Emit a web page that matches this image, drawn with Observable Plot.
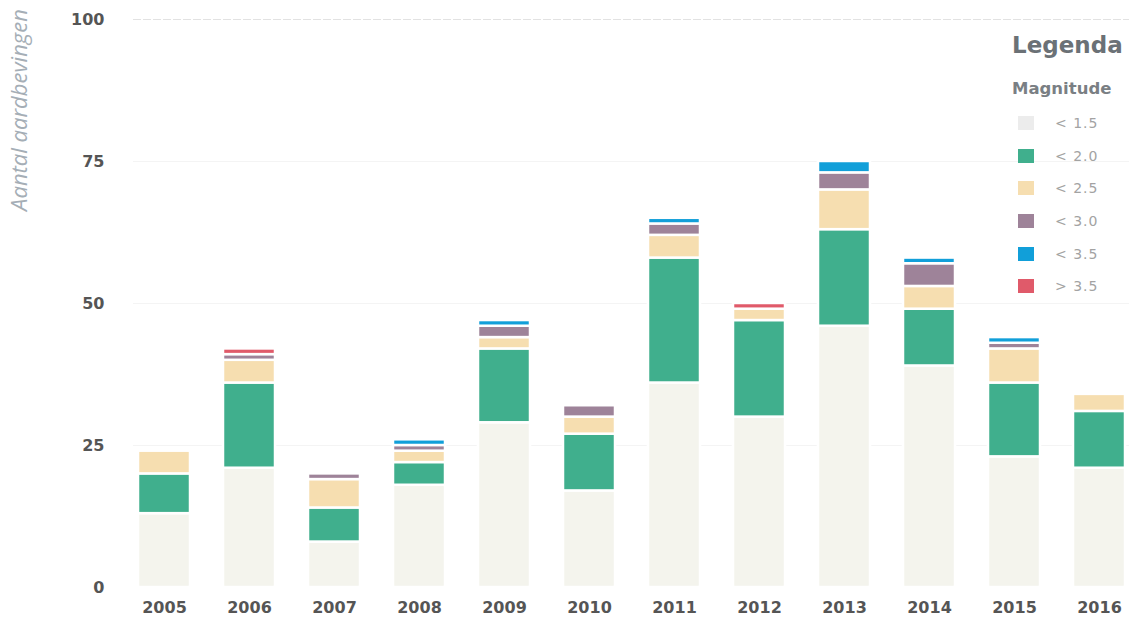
<!DOCTYPE html>
<html>
<head>
<meta charset="utf-8">
<script src="https://cdn.jsdelivr.net/npm/d3@7"></script>
<script src="https://cdn.jsdelivr.net/npm/@observablehq/plot@0.6"></script>
<style>
  body { margin: 0; background: #fff; }
  #wrap { position: relative; width: 1131px; height: 628px; overflow: hidden; }
  #ytitle {
    position: absolute; left: -102px; top: 96px; width: 240px; height: 28px;
    line-height: 28px; text-align: center; transform: rotate(-90deg);
    font-family: "Open Sans", sans-serif; font-style: italic; font-weight: 400;
    font-size: 22px; color: #a5aeb6; white-space: nowrap;
  }
  #legend { position: absolute; left: 1012px; top: 28px; font-family: "DejaVu Sans", sans-serif; }
  #legend .title { font-weight: bold; font-size: 23px; color: #6b7176; line-height: 34px; }
  #legend .sub { font-weight: bold; font-size: 16.5px; color: #7a7f84; margin-top: 17px; line-height: 20px; }
  #legend .row { display: flex; align-items: center; height: 32.6px; }
  #legend .sw { width: 16px; height: 14px; margin-left: 6px; margin-right: 21px; }
  #legend .lab { font-size: 14px; color: #a3a3a3; letter-spacing: 1px; }
</style>
</head>
<body>
<div id="wrap"></div>
<script>
const years = ["2005","2006","2007","2008","2009","2010","2011","2012","2013","2014","2015","2016"];
const categories = ["< 1.5","< 2.0","< 2.5","< 3.0","< 3.5","> 3.5"];
const colors = ["#f4f4ed","#40af8d","#f6deb0","#9e8399","#119fd9","#e05a6a"];

const m15  = [13, 21,  8, 18, 29, 17, 36, 30, 46, 39, 23, 21];
const m20  = [ 7, 15,  6,  4, 13, 10, 22, 17, 17, 10, 13, 10];
const m25  = [ 4,  4,  5,  2,  2,  3,  4,  2,  7,  4,  6,  3];
const m30  = [ 0,  1,  1,  1,  2,  2,  2,  0,  3,  4,  1,  0];
const m35  = [ 0,  0,  0,  1,  1,  0,  1,  0,  2,  1,  1,  0];
const m35p = [ 0,  1,  0,  0,  0,  0,  0,  1,  0,  0,  0,  0];
const yTicks = [0, 25, 50, 75, 100];

const series = [m15, m20, m25, m30, m35, m35p];
const data = years.flatMap((yr, i) =>
  categories.map((c, k) => ({year: yr, magnitude: c, count: series[k][i]}))
);

const chart = Plot.plot({
  width: 1131,
  height: 628,
  marginTop: 19,
  marginBottom: 41,
  marginLeft: 133,
  marginRight: 2,
  style: {fontFamily: "DejaVu Sans", fontSize: "16px", fontWeight: "bold", color: "#555", background: "transparent"},
  x: {domain: years, paddingInner: 0.39, paddingOuter: 0, label: null},
  y: {domain: [0, 100], label: null},
  color: {domain: categories, range: colors},
  marks: [
    Plot.gridY(yTicks.slice(1, 4), {stroke: "#f4f4f4", strokeOpacity: 1}),
    Plot.gridY(yTicks.slice(4), {stroke: "#e2e2e2", strokeOpacity: 1, strokeDasharray: "8,2"}),
    Plot.barY(data, {x: "year", y: "count", fill: "magnitude", stroke: "white", strokeWidth: 2.5}),
    Plot.axisX({tickSize: 0, tickPadding: 14, fill: "#555", fontWeight: "bold"}),
    Plot.axisY(yTicks, {tickSize: 0, tickPadding: 29, fill: "#555", fontWeight: "bold"})
  ]
});

const wrap = document.getElementById("wrap");
wrap.appendChild(chart);

const yt = document.createElement("div");
yt.id = "ytitle";
yt.textContent = "Aantal aardbevingen";
wrap.appendChild(yt);

const lg = document.createElement("div");
lg.id = "legend";
let html = '<div class="title">Legenda</div><div class="sub">Magnitude</div><div style="height:8px"></div>';
categories.forEach((c, k) => {
  const sw = k === 0 ? "#ececec" : colors[k];
  html += `<div class="row"><div class="sw" style="background:${sw}"></div><div class="lab">${c}</div></div>`;
});
lg.innerHTML = html;
wrap.appendChild(lg);
</script>
</body>
</html>
